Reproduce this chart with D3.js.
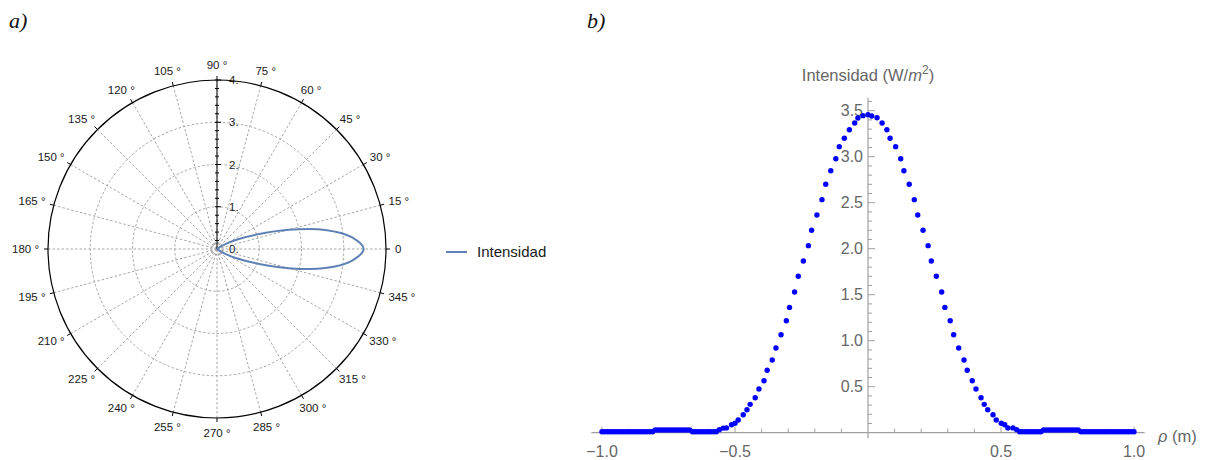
<!DOCTYPE html>
<html>
<head>
<meta charset="utf-8">
<script src="https://cdn.jsdelivr.net/npm/d3@7"></script>
<style>
  body { margin: 0; background: #fff; }
  svg text { font-family: "Liberation Sans", Arial, sans-serif; }
</style>
</head>
<body>
<svg id="fig" width="1210" height="460"></svg>
<script>
//
// a) lobulo polar de intensidad
//
var lobuloAngulo = [-45, -40, -35, -30, -25, -20, -15, -10, -5, 0, 5, 10, 15, 20, 25, 30, 35, 40, 45];
var lobuloIntensidad = [0, 0.02, 0.08, 0.27, 0.55, 1.0, 1.75, 2.6, 3.2, 3.47, 3.2, 2.6, 1.75, 1.0, 0.55, 0.27, 0.08, 0.02, 0];
var anillos = [0.14, 1, 2, 3];
var radialLabels = [0, 1, 2, 3, 4];
var angulos = [0, 15, 30, 45, 60, 75, 90, 105, 120, 135, 150, 165, 180, 195, 210, 225, 240, 255, 270, 285, 300, 315, 330, 345];

//
// b) perfil de intensidad vs rho
//
var colaIzq = [
  [-1.00,0.01],[-0.99,0.01],[-0.98,0.01],[-0.97,0.01],[-0.96,0.01],[-0.95,0.01],[-0.94,0.01],[-0.93,0.01],[-0.92,0.01],[-0.91,0.01],
  [-0.90,0.01],[-0.89,0.01],[-0.88,0.01],[-0.87,0.01],[-0.86,0.01],[-0.85,0.01],[-0.84,0.01],[-0.83,0.01],[-0.82,0.01],[-0.81,0.01],
  [-0.80,0.03],[-0.79,0.03],[-0.78,0.03],[-0.77,0.03],[-0.76,0.03],[-0.75,0.03],[-0.74,0.03],[-0.73,0.03],[-0.72,0.03],[-0.71,0.03],
  [-0.70,0.03],[-0.69,0.03],[-0.68,0.03],[-0.67,0.03],
  [-0.66,0.01],[-0.65,0.01],[-0.64,0.01],[-0.63,0.01],[-0.62,0.01],[-0.61,0.01],[-0.60,0.01],[-0.59,0.01],[-0.58,0.01],[-0.57,0.01]
];
var subida = [
  [-0.559,0.033],[-0.544,0.050],[-0.532,0.052],[-0.513,0.087],[-0.500,0.102],[-0.488,0.138],[-0.469,0.195],[-0.455,0.25],
  [-0.443,0.308],[-0.424,0.38],[-0.410,0.475],[-0.391,0.565],[-0.379,0.678],[-0.360,0.790],[-0.346,0.92],[-0.327,1.065],
  [-0.307,1.217],[-0.295,1.362],[-0.276,1.53],[-0.262,1.70],[-0.243,1.866],[-0.224,2.033],[-0.212,2.20],[-0.192,2.367],
  [-0.173,2.533],[-0.159,2.70],[-0.140,2.848],[-0.121,2.978],[-0.108,3.109],[-0.089,3.20],[-0.070,3.293],[-0.050,3.366],
  [-0.038,3.42],[-0.019,3.446],[0.0,3.457]
];
var bajada = [
  [0.014,3.442],[0.034,3.424],[0.053,3.366],[0.071,3.293],[0.083,3.20],[0.104,3.109],[0.123,2.978],[0.135,2.848],
  [0.155,2.70],[0.174,2.533],[0.187,2.367],[0.207,2.20],[0.226,2.033],[0.238,1.866],[0.257,1.70],[0.277,1.53],
  [0.289,1.362],[0.309,1.217],[0.322,1.065],[0.341,0.92],[0.361,0.79],[0.373,0.678],[0.392,0.565],[0.406,0.475],
  [0.425,0.38],[0.437,0.308],[0.450,0.25],[0.470,0.195],[0.482,0.138],[0.501,0.102],[0.514,0.087],[0.526,0.052],
  [0.545,0.052],[0.559,0.033]
];
var colaDer = [
  [0.57,0.01],[0.58,0.01],[0.59,0.01],[0.60,0.01],[0.61,0.01],[0.62,0.01],[0.63,0.01],[0.64,0.01],[0.65,0.01],
  [0.66,0.03],[0.67,0.03],[0.68,0.03],[0.69,0.03],[0.70,0.03],[0.71,0.03],[0.72,0.03],[0.73,0.03],[0.74,0.03],
  [0.75,0.03],[0.76,0.03],[0.77,0.03],[0.78,0.03],[0.79,0.03],
  [0.80,0.01],[0.81,0.01],[0.82,0.01],[0.83,0.01],[0.84,0.01],[0.85,0.01],[0.86,0.01],[0.87,0.01],[0.88,0.01],[0.89,0.01],
  [0.90,0.01],[0.91,0.01],[0.92,0.01],[0.93,0.01],[0.94,0.01],[0.95,0.01],[0.96,0.01],[0.97,0.01],[0.98,0.01],[0.99,0.01],[1.00,0.01]
];
var xTicks = [-1, -0.5, 0.5, 1];
var yTicks = [0.5, 1.0, 1.5, 2.0, 2.5, 3.0, 3.5];

var svg = d3.select("#fig");
var rad = function(deg) { return deg * Math.PI / 180; };

// panel letters
svg.append("text").attr("x", 9).attr("y", 28)
    .style("font-family", "'Liberation Serif', 'DejaVu Serif', serif")
    .style("font-style", "italic").style("font-size", "22px").attr("fill", "#111")
    .text("a)");
svg.append("text").attr("x", 587).attr("y", 28)
    .style("font-family", "'Liberation Serif', 'DejaVu Serif', serif")
    .style("font-style", "italic").style("font-size", "22px").attr("fill", "#111")
    .text("b)");

// ---------- polar ----------
var cx = 217, cy = 249;
var r = d3.scaleLinear().domain([0, 4]).range([0, 169]);
var polar = svg.append("g").attr("transform", "translate(" + cx + "," + cy + ")");
var gridColor = "#a6a6a6";

// spokes
polar.selectAll(".spoke")
  .data(angulos)
  .enter().append("line")
    .attr("x1", 0).attr("y1", 0)
    .attr("x2", function(d) { return r(4) * Math.cos(rad(d)); })
    .attr("y2", function(d) { return -r(4) * Math.sin(rad(d)); })
    .attr("stroke", gridColor).attr("stroke-width", 1)
    .attr("stroke-dasharray", "2.5,2");

// rings
polar.selectAll(".ring")
  .data(anillos)
  .enter().append("circle")
    .attr("r", function(d) { return r(d); })
    .attr("fill", "none").attr("stroke", gridColor).attr("stroke-width", 1)
    .attr("stroke-dasharray", "2.5,2");

// outer circle
polar.append("circle").attr("r", r(4))
    .attr("fill", "none").attr("stroke", "#000").attr("stroke-width", 1.2);

// outer angular ticks
polar.selectAll(".atick")
  .data(angulos)
  .enter().append("line")
    .attr("x1", function(d) { return r(4) * Math.cos(rad(d)); })
    .attr("y1", function(d) { return -r(4) * Math.sin(rad(d)); })
    .attr("x2", function(d) { return (r(4) + 4) * Math.cos(rad(d)); })
    .attr("y2", function(d) { return -(r(4) + 4) * Math.sin(rad(d)); })
    .attr("stroke", "#000").attr("stroke-width", 1);

// angular labels
polar.selectAll(".alabel")
  .data(angulos)
  .enter().append("text")
    .style("font-size", "11.5px").attr("fill", "#1a1a1a")
    .attr("text-anchor", "middle").attr("dominant-baseline", "central")
    .text(function(d) { return d === 0 ? "0" : d + " \u00b0"; })
    .each(function(d) {
      var w = this.getComputedTextLength();
      var a = rad(d);
      var lx = (178 + w / 2) * Math.cos(a);
      var ly = -(178 + 6) * Math.sin(a);
      d3.select(this).attr("x", lx).attr("y", ly);
    });

// radial axis (vertical)
polar.append("line").attr("x1", 0).attr("y1", 0).attr("x2", 0).attr("y2", -r(4))
    .attr("stroke", "#000").attr("stroke-width", 1);
polar.selectAll(".rtick")
  .data(d3.range(0.2, 4.01, 0.2))
  .enter().append("line")
    .attr("x1", -2).attr("x2", function(d) { return Math.abs(d - Math.round(d)) < 1e-6 ? 4 : 2; })
    .attr("y1", function(d) { return -r(d); }).attr("y2", function(d) { return -r(d); })
    .attr("stroke", "#000").attr("stroke-width", 1);
polar.selectAll(".rlabel")
  .data(radialLabels)
  .enter().append("text")
    .attr("x", 12).attr("y", function(d) { return -r(d) + 4; })
    .style("font-size", "11.5px").attr("fill", "#1a1a1a")
    .text(function(d) { return d + "."; });

// lobe
var lobulo = lobuloAngulo.map(function(a, i) { return { a: a, v: lobuloIntensidad[i] }; });
polar.append("path")
    .datum(lobulo)
    .attr("fill", "none").attr("stroke", "#5e81b5").attr("stroke-width", 2)
    .attr("d", d3.lineRadial()
      .angle(function(d) { return Math.PI / 2 - rad(d.a); })
      .radius(function(d) { return r(d.v); })
      .curve(d3.curveCatmullRom.alpha(0.5)));

// legend
svg.append("line").attr("x1", 446).attr("x2", 467).attr("y1", 252).attr("y2", 252)
    .attr("stroke", "#5e81b5").attr("stroke-width", 2);
svg.append("text").attr("x", 477).attr("y", 257)
    .style("font-size", "15px").attr("fill", "#1a1a1a").text("Intensidad");

// ---------- perfil ----------
var x = d3.scaleLinear().domain([-1, 1]).range([602, 1134]);
var y = d3.scaleLinear().domain([0, 3.5]).range([432.7, 110.7]);
var axisColor = "#a0a0a0", labelColor = "#666";

// x axis
svg.append("line").attr("x1", x(-1.04)).attr("x2", x(1.04)).attr("y1", y(0)).attr("y2", y(0))
    .attr("stroke", axisColor).attr("stroke-width", 1.2);
svg.selectAll(".xminor")
  .data(d3.range(-10, 11).filter(function(k) { return k !== 0; }).map(function(k) { return k / 10; }))
  .enter().append("line")
    .attr("x1", function(d) { return x(d); }).attr("x2", function(d) { return x(d); })
    .attr("y1", y(0)).attr("y2", function(d) { return y(0) - (Math.abs(d * 2 - Math.round(d * 2)) < 1e-6 ? 6 : 4); })
    .attr("stroke", axisColor).attr("stroke-width", 1);
svg.selectAll(".xlabel")
  .data(xTicks)
  .enter().append("text")
    .attr("x", function(d) { return x(d); }).attr("y", 457)
    .attr("text-anchor", "middle").style("font-size", "16px").attr("fill", labelColor)
    .text(function(d) { return d3.format(".1f")(d).replace("-", "\u2212"); });

// y axis
svg.append("line").attr("x1", x(0)).attr("x2", x(0)).attr("y1", y(3.64)).attr("y2", y(-0.06))
    .attr("stroke", axisColor).attr("stroke-width", 1.2);
svg.selectAll(".yminor")
  .data(d3.range(1, 37).map(function(k) { return k / 10; }))
  .enter().append("line")
    .attr("y1", function(d) { return y(d); }).attr("y2", function(d) { return y(d); })
    .attr("x1", x(0)).attr("x2", function(d) { return x(0) + (Math.abs(d * 2 - Math.round(d * 2)) < 1e-6 ? 7 : 4); })
    .attr("stroke", axisColor).attr("stroke-width", 1);
svg.selectAll(".ylabel")
  .data(yTicks)
  .enter().append("text")
    .attr("x", x(0) - 5).attr("y", function(d) { return y(d); })
    .attr("text-anchor", "end").attr("dominant-baseline", "central")
    .style("font-size", "16px").attr("fill", labelColor)
    .text(function(d) { return d3.format(".1f")(d); });

// axis titles
var yt = svg.append("text").attr("x", 868).attr("y", 81).attr("text-anchor", "middle")
    .style("font-size", "16.5px").attr("fill", labelColor);
yt.append("tspan").text("Intensidad (W/");
yt.append("tspan").style("font-style", "italic").text("m");
yt.append("tspan").attr("dy", -7).style("font-size", "12px").text("2");
yt.append("tspan").attr("dy", 7).text(")");

var xt = svg.append("text").attr("x", 1158).attr("y", 442)
    .style("font-size", "16.5px").attr("fill", labelColor);
xt.append("tspan").style("font-style", "italic").text("\u03c1");
xt.append("tspan").text(" (m)");

// points
var puntos = colaIzq.concat(subida, bajada, colaDer);
svg.append("g").selectAll("circle")
  .data(puntos)
  .enter().append("circle")
    .attr("cx", function(d) { return x(d[0]); })
    .attr("cy", function(d) { return y(d[1]); })
    .attr("r", 2.7)
    .attr("fill", "#0000ff");
</script>
</body>
</html>
